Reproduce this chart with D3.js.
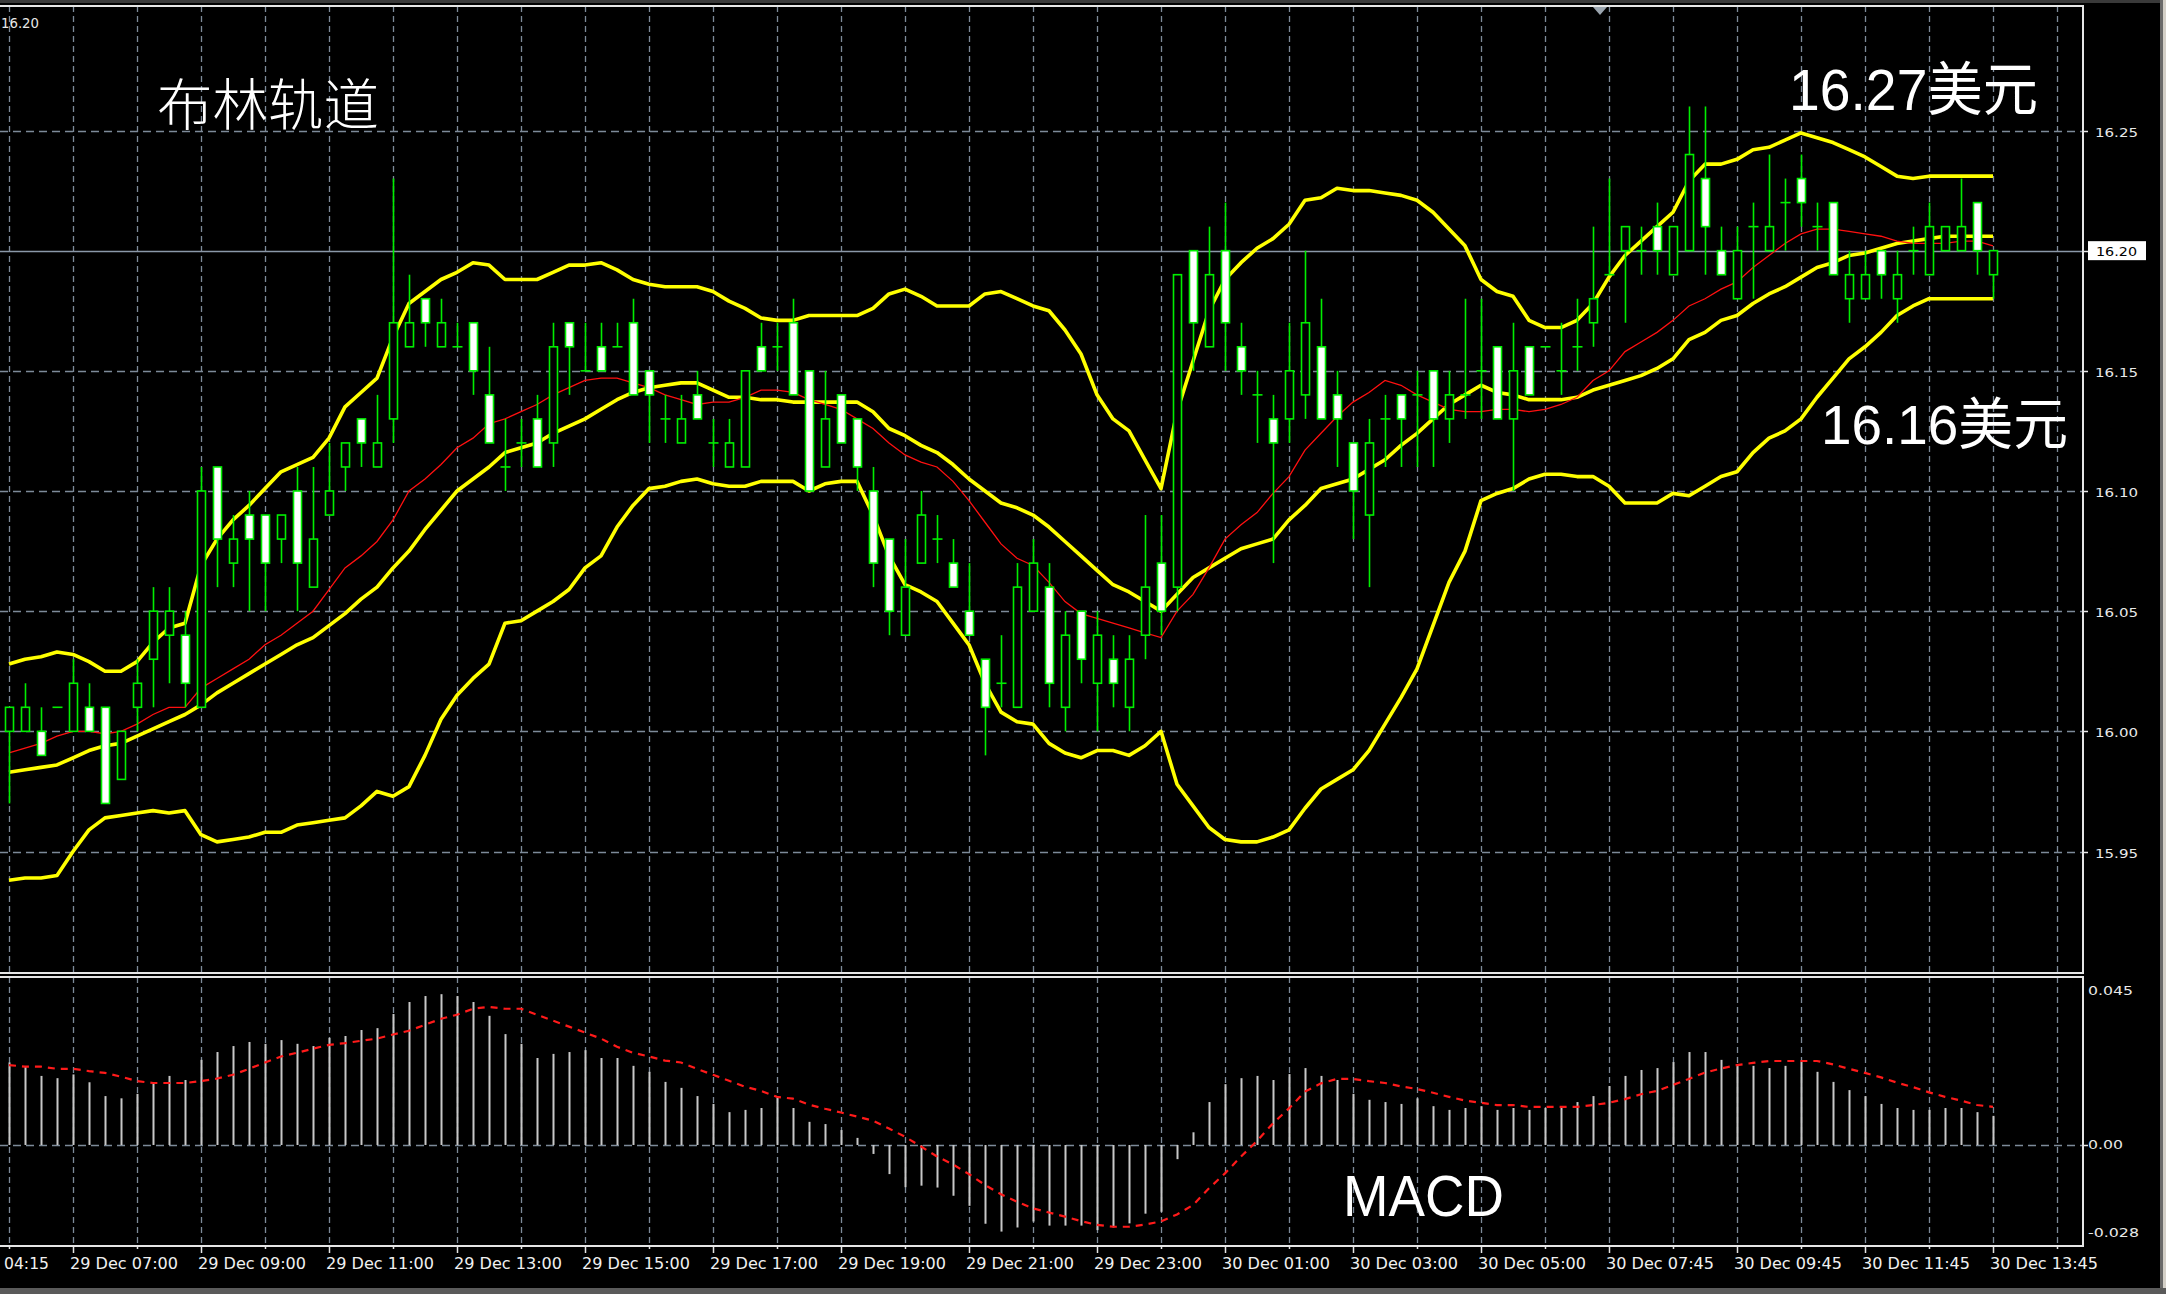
<!DOCTYPE html>
<html><head><meta charset="utf-8">
<script src="https://cdn.jsdelivr.net/npm/d3@7"></script>
<style>html,body{margin:0;padding:0;background:#000;overflow:hidden}svg{display:block}</style>
</head><body>
<svg id="c" width="2166" height="1294"></svg>
<script>
// ---------- DATA ----------
const opens = [16.00,16.00,16.00,16.01,16.00,16.01,16.01,15.98,16.01,16.03,
16.04,16.04,16.01,16.11,16.07,16.09,16.09,16.08,16.10,16.06,
16.09,16.11,16.13,16.11,16.13,16.16,16.18,16.16,16.16,16.17,
16.14,16.11,16.12,16.13,16.12,16.17,16.15,16.16,16.16,16.17,
16.15,16.13,16.12,16.14,16.12,16.11,16.11,16.16,16.16,16.17,
16.15,16.11,16.14,16.13,16.10,16.08,16.04,16.07,16.08,16.07,
16.05,16.03,16.02,16.01,16.05,16.06,16.01,16.05,16.02,16.03,
16.01,16.04,16.07,16.06,16.20,16.16,16.20,16.16,16.14,16.13,
16.13,16.14,16.16,16.14,16.12,16.09,16.13,16.14,16.14,16.15,
16.13,16.14,16.15,16.16,16.13,16.16,16.16,16.15,16.16,16.17,
16.19,16.20,16.20,16.21,16.19,16.20,16.23,16.20,16.18,16.21,
16.20,16.22,16.23,16.21,16.22,16.18,16.18,16.20,16.18,16.20,
16.19,16.20,16.20,16.22,16.19];
const highs = [16.01,16.02,16.01,16.01,16.03,16.02,16.01,16.00,16.03,16.06,
16.06,16.05,16.11,16.11,16.09,16.10,16.09,16.09,16.11,16.11,
16.12,16.12,16.13,16.14,16.23,16.19,16.18,16.18,16.17,16.17,
16.16,16.13,16.13,16.14,16.17,16.17,16.17,16.17,16.17,16.18,
16.15,16.14,16.14,16.15,16.13,16.13,16.15,16.17,16.17,16.18,
16.15,16.15,16.14,16.13,16.11,16.08,16.08,16.10,16.09,16.08,
16.07,16.03,16.04,16.07,16.08,16.07,16.05,16.05,16.05,16.04,
16.04,16.09,16.09,16.19,16.20,16.21,16.22,16.17,16.15,16.14,
16.17,16.20,16.18,16.15,16.12,16.13,16.14,16.14,16.15,16.15,
16.15,16.18,16.18,16.16,16.17,16.16,16.16,16.17,16.18,16.21,
16.23,16.21,16.21,16.22,16.21,16.26,16.26,16.21,16.21,16.22,
16.24,16.23,16.24,16.22,16.22,16.20,16.20,16.20,16.20,16.21,
16.22,16.21,16.23,16.22,16.20];
const lows = [15.97,16.00,15.99,16.01,16.00,16.00,15.97,15.98,16.00,16.01,
16.02,16.01,16.01,16.06,16.06,16.05,16.05,16.07,16.05,16.06,
16.09,16.10,16.11,16.11,16.12,16.16,16.16,16.16,16.16,16.14,
16.12,16.10,16.11,16.11,16.11,16.14,16.15,16.15,16.16,16.14,
16.12,16.12,16.12,16.13,16.11,16.11,16.11,16.15,16.15,16.14,
16.10,16.11,16.12,16.10,16.06,16.04,16.04,16.07,16.07,16.06,
16.04,15.99,16.01,16.01,16.05,16.01,16.00,16.02,16.00,16.01,
16.00,16.03,16.04,16.05,16.15,16.16,16.15,16.14,16.12,16.07,
16.12,16.13,16.13,16.11,16.08,16.06,16.11,16.11,16.11,16.11,
16.12,16.13,16.13,16.13,16.10,16.14,16.16,16.14,16.15,16.16,
16.19,16.17,16.19,16.19,16.19,16.20,16.19,16.19,16.18,16.18,
16.20,16.20,16.21,16.20,16.19,16.17,16.18,16.18,16.17,16.19,
16.19,16.20,16.20,16.19,16.18];
const closes = [16.01,16.01,15.99,16.01,16.02,16.00,15.97,16.00,16.02,16.05,
16.05,16.02,16.10,16.08,16.08,16.08,16.07,16.09,16.07,16.08,
16.10,16.12,16.12,16.12,16.17,16.17,16.17,16.17,16.16,16.15,
16.12,16.11,16.12,16.11,16.16,16.16,16.15,16.15,16.16,16.14,
16.14,16.13,16.13,16.13,16.12,16.12,16.15,16.15,16.16,16.14,
16.10,16.13,16.12,16.11,16.07,16.05,16.06,16.09,16.08,16.06,
16.04,16.01,16.02,16.06,16.07,16.02,16.04,16.03,16.04,16.02,
16.03,16.06,16.05,16.19,16.17,16.19,16.17,16.15,16.14,16.12,
16.15,16.17,16.13,16.13,16.10,16.12,16.13,16.13,16.14,16.13,
16.14,16.14,16.15,16.13,16.15,16.14,16.16,16.15,16.16,16.18,
16.19,16.21,16.20,16.20,16.21,16.24,16.21,16.19,16.20,16.21,
16.21,16.22,16.22,16.21,16.19,16.19,16.19,16.19,16.19,16.20,
16.21,16.21,16.21,16.20,16.20];

const bbUpper = [16.028,16.030,16.031,16.033,16.032,16.029,16.025,16.025,16.029,16.037,
16.043,16.045,16.069,16.080,16.088,16.094,16.101,16.108,16.111,16.114,
16.122,16.135,16.141,16.147,16.164,16.178,16.183,16.188,16.191,16.195,
16.194,16.188,16.188,16.188,16.191,16.194,16.194,16.195,16.192,16.188,
16.186,16.185,16.185,16.185,16.183,16.179,16.176,16.172,16.171,16.171,
16.173,16.173,16.173,16.173,16.176,16.182,16.184,16.181,16.177,16.177,
16.177,16.182,16.183,16.180,16.177,16.175,16.167,16.157,16.140,16.130,
16.125,16.113,16.101,16.133,16.154,16.175,16.188,16.195,16.201,16.205,
16.211,16.221,16.222,16.226,16.225,16.225,16.224,16.223,16.221,16.216,
16.209,16.202,16.188,16.183,16.181,16.171,16.168,16.168,16.171,16.178,
16.189,16.198,16.204,16.210,16.216,16.229,16.236,16.236,16.238,16.242,
16.243,16.246,16.249,16.247,16.245,16.242,16.239,16.235,16.231,16.230,
16.231,16.231,16.231,16.231,16.231];
const bbMiddle = [15.983,15.984,15.985,15.986,15.989,15.992,15.994,15.995,15.998,16.001,
16.004,16.007,16.011,16.016,16.020,16.024,16.028,16.032,16.036,16.039,
16.044,16.049,16.055,16.060,16.068,16.075,16.084,16.092,16.100,16.105,
16.110,16.116,16.118,16.120,16.124,16.127,16.130,16.134,16.138,16.141,
16.143,16.144,16.145,16.145,16.142,16.139,16.139,16.138,16.138,16.137,
16.137,16.137,16.137,16.137,16.133,16.126,16.123,16.119,16.116,16.111,
16.105,16.100,16.095,16.093,16.090,16.085,16.079,16.073,16.067,16.061,
16.058,16.054,16.050,16.057,16.064,16.068,16.072,16.076,16.078,16.080,
16.088,16.094,16.101,16.103,16.105,16.109,16.113,16.119,16.124,16.130,
16.136,16.140,16.144,16.141,16.140,16.138,16.138,16.138,16.139,16.142,
16.144,16.146,16.148,16.151,16.155,16.163,16.166,16.171,16.173,16.178,
16.182,16.185,16.189,16.193,16.195,16.198,16.199,16.201,16.203,16.204,
16.205,16.206,16.206,16.206,16.206];
const bbLower = [15.938,15.939,15.939,15.940,15.950,15.959,15.964,15.965,15.966,15.967,
15.966,15.967,15.957,15.954,15.955,15.956,15.958,15.958,15.961,15.962,
15.963,15.964,15.969,15.975,15.973,15.977,15.990,16.005,16.015,16.022,
16.028,16.045,16.046,16.050,16.054,16.059,16.068,16.073,16.085,16.094,
16.101,16.102,16.104,16.105,16.103,16.102,16.102,16.104,16.104,16.104,
16.100,16.103,16.104,16.104,16.090,16.073,16.061,16.058,16.054,16.045,
16.036,16.020,16.008,16.004,16.003,15.995,15.991,15.989,15.992,15.992,
15.990,15.994,16.000,15.978,15.969,15.960,15.955,15.954,15.954,15.956,
15.959,15.968,15.976,15.980,15.984,15.992,16.003,16.014,16.026,16.044,
16.062,16.075,16.096,16.099,16.101,16.105,16.107,16.107,16.106,16.106,
16.102,16.095,16.095,16.095,16.099,16.098,16.102,16.106,16.108,16.116,
16.122,16.125,16.130,16.139,16.147,16.155,16.160,16.166,16.173,16.177,
16.180,16.180,16.180,16.180,16.180];
const maRed = [15.991,15.993,15.995,15.998,16.000,16.000,15.999,16.000,16.003,16.007,
16.010,16.010,16.018,16.022,16.026,16.030,16.036,16.040,16.045,16.050,
16.059,16.068,16.073,16.079,16.088,16.100,16.105,16.111,16.118,16.122,
16.128,16.130,16.133,16.136,16.140,16.143,16.146,16.147,16.147,16.145,
16.143,16.140,16.138,16.136,16.137,16.137,16.139,16.142,16.142,16.141,
16.138,16.136,16.134,16.130,16.126,16.120,16.115,16.112,16.110,16.104,
16.096,16.087,16.078,16.072,16.069,16.062,16.054,16.049,16.047,16.045,
16.043,16.041,16.039,16.050,16.057,16.068,16.080,16.086,16.091,16.099,
16.106,16.117,16.124,16.131,16.137,16.141,16.146,16.144,16.140,16.137,
16.134,16.133,16.133,16.134,16.134,16.133,16.134,16.136,16.139,16.146,
16.150,16.158,16.162,16.166,16.171,16.177,16.180,16.184,16.187,16.193,
16.198,16.203,16.207,16.209,16.209,16.208,16.207,16.206,16.204,16.203,
16.203,16.203,16.204,16.204,16.202];

const macdHist = [0.0221,0.0210,0.0185,0.0179,0.0189,0.0168,0.0131,0.0125,0.0137,0.0165,
0.0185,0.0174,0.0228,0.0249,0.0265,0.0276,0.0271,0.0281,0.0271,0.0265,
0.0287,0.0292,0.0308,0.0313,0.0351,0.0383,0.0399,0.0404,0.0399,0.0383,
0.0346,0.0297,0.0271,0.0233,0.0244,0.0249,0.0254,0.0233,0.0233,0.0212,
0.0196,0.0169,0.0153,0.0131,0.0110,0.0088,0.0094,0.0099,0.0126,0.0099,
0.0062,0.0056,0.0040,0.0019,-0.0024,-0.0078,-0.0113,-0.0109,-0.0114,-0.0136,
-0.0163,-0.0211,-0.0232,-0.0221,-0.0205,-0.0216,-0.0216,-0.0216,-0.0228,-0.0221,
-0.0210,-0.0184,-0.0179,-0.0038,0.0034,0.0115,0.0163,0.0179,0.0185,0.0174,
0.0190,0.0206,0.0185,0.0174,0.0137,0.0121,0.0115,0.0110,0.0125,0.0104,
0.0094,0.0099,0.0104,0.0094,0.0099,0.0094,0.0099,0.0099,0.0115,0.0131,
0.0158,0.0185,0.0201,0.0206,0.0222,0.0249,0.0249,0.0228,0.0217,0.0212,
0.0206,0.0212,0.0222,0.0196,0.0169,0.0147,0.0131,0.0110,0.0099,0.0094,
0.0094,0.0099,0.0099,0.0088,0.0078];
const macdSignal = [0.0214,0.0210,0.0210,0.0204,0.0204,0.0198,0.0193,0.0183,0.0171,0.0166,
0.0166,0.0166,0.0171,0.0178,0.0188,0.0204,0.0221,0.0237,0.0247,0.0258,
0.0268,0.0273,0.0279,0.0285,0.0296,0.0306,0.0322,0.0338,0.0349,0.0365,
0.0370,0.0365,0.0365,0.0349,0.0333,0.0317,0.0301,0.0285,0.0263,0.0247,
0.0237,0.0226,0.0221,0.0204,0.0188,0.0172,0.0156,0.0145,0.0129,0.0124,
0.0108,0.0097,0.0087,0.0076,0.0065,0.0044,0.0022,-0.0004,-0.0031,-0.0052,
-0.0078,-0.0107,-0.0132,-0.0152,-0.0170,-0.0181,-0.0192,-0.0204,-0.0214,-0.0219,
-0.0219,-0.0213,-0.0205,-0.0186,-0.0161,-0.0116,-0.0076,-0.0031,0.0011,0.0058,
0.0098,0.0143,0.0165,0.0177,0.0177,0.0171,0.0166,0.0157,0.0150,0.0140,
0.0129,0.0119,0.0113,0.0107,0.0107,0.0102,0.0102,0.0102,0.0102,0.0107,
0.0113,0.0123,0.0136,0.0145,0.0161,0.0177,0.0194,0.0205,0.0214,0.0220,
0.0225,0.0225,0.0225,0.0225,0.0216,0.0204,0.0193,0.0181,0.0167,0.0155,
0.0141,0.0129,0.0119,0.0107,0.0102];

const priceTicks = [16.25,16.20,16.15,16.10,16.05,16.00,15.95];
const priceTickLabels = ["16.25","16.20","16.15","16.10","16.05","16.00","15.95"];
const macdTicks = [0.045,0.00,-0.028];
const macdTickLabels = ["0.045","0.00","-0.028"];
const timeLabels = ["04:15","29 Dec 07:00","29 Dec 09:00","29 Dec 11:00","29 Dec 13:00","29 Dec 15:00",
"29 Dec 17:00","29 Dec 19:00","29 Dec 21:00","29 Dec 23:00","30 Dec 01:00","30 Dec 03:00",
"30 Dec 05:00","30 Dec 07:45","30 Dec 09:45","30 Dec 11:45","30 Dec 13:45"];
const timeLabelBars = [-4,4,12,20,28,36,44,52,60,68,76,84,92,100,108,116,124];
const gridBars = [0,4,8,12,16,20,24,28,32,36,40,44,48,52,56,60,64,68,72,76,80,84,88,92,96,100,104,108,112,116,120,124,128];
const currentPrice = 16.20;
const currentPriceLabel = "16.20";
const titleText = "布林轨道";
const upperNote = "16.27美元";
const lowerNote = "16.16美元";
const macdNote = "MACD";

// ---------- LAYOUT ----------
const svg = d3.select("#c");
const W = 2166, H = 1294;
const plotR = 2083;
const mainTop = 6, mainBot = 973;
const macdTop = 977, macdBot = 1246;
const gridColor = "#7d8a99";
const green = "#00ee00";

const n = closes.length;
const x = d3.scaleLinear().domain([0, n-1]).range([9, 1993]);
const y = d3.scaleLinear().domain([15.95, 16.25]).range([851.5, 130.5]);
const ym = d3.scaleLinear().domain([-0.028, 0.045]).range([1249.5, 977]);

svg.append("rect").attr("width", W).attr("height", H).attr("fill", "#000");

const defs = svg.append("defs");
defs.append("clipPath").attr("id","clipMain").append("rect")
  .attr("x",0).attr("y",mainTop).attr("width",plotR).attr("height",mainBot-mainTop);
defs.append("clipPath").attr("id","clipMacd").append("rect")
  .attr("x",0).attr("y",macdTop).attr("width",plotR).attr("height",macdBot-macdTop);

// ---------- MAIN PANEL ----------
const gMain = svg.append("g").attr("clip-path","url(#clipMain)");
gMain.selectAll("line.vg").data(gridBars).join("line")
  .attr("x1", d=>Math.round(x(d))+0.5).attr("x2", d=>Math.round(x(d))+0.5)
  .attr("y1", mainTop).attr("y2", mainBot)
  .attr("stroke", gridColor).attr("stroke-width",1.3).attr("stroke-dasharray","6,4");
gMain.selectAll("line.hg").data(priceTicks.filter(p=>p!==currentPrice)).join("line")
  .attr("x1",0).attr("x2",plotR)
  .attr("y1", d=>Math.round(y(d))+0.5).attr("y2", d=>Math.round(y(d))+0.5)
  .attr("stroke", gridColor).attr("stroke-width",1.3).attr("stroke-dasharray","8,5");
gMain.append("line").attr("x1",0).attr("x2",plotR)
  .attr("y1", Math.round(y(currentPrice))+0.5).attr("y2", Math.round(y(currentPrice))+0.5)
  .attr("stroke","#8a98a8").attr("stroke-width",1.5);

const idx = d3.range(n);
const lineOf = arr => d3.line().x(i=>x(i)).y(i=>y(arr[i]))(idx);
[bbUpper,bbMiddle,bbLower].forEach(arr=>{
  gMain.append("path").attr("d", lineOf(arr)).attr("fill","none")
    .attr("stroke","#ffff00").attr("stroke-width",3.6).attr("stroke-linejoin","round");
});
gMain.append("path").attr("d", lineOf(maRed)).attr("fill","none")
  .attr("stroke","#ff1010").attr("stroke-width",1.3);

const gC = gMain.append("g");
idx.forEach(i=>{
  const cx = Math.round(x(i))+0.5;
  gC.append("line").attr("x1",cx).attr("x2",cx)
    .attr("y1", y(highs[i])).attr("y2", y(lows[i]))
    .attr("stroke", green).attr("stroke-width",1.6);
  const o = opens[i], c = closes[i];
  if (o === c) {
    gC.append("line").attr("x1",cx-5).attr("x2",cx+5)
      .attr("y1", y(o)).attr("y2", y(o))
      .attr("stroke", green).attr("stroke-width",1.6);
  } else {
    const top = y(Math.max(o,c)), bot = y(Math.min(o,c));
    gC.append("rect").attr("x", cx-4).attr("y", top)
      .attr("width", 8).attr("height", bot-top)
      .attr("fill", c < o ? "#ffffff" : "#000000")
      .attr("stroke", green).attr("stroke-width",1.6);
  }
});

// ---------- MACD PANEL ----------
const gM = svg.append("g").attr("clip-path","url(#clipMacd)");
gM.selectAll("line.vg").data(gridBars).join("line")
  .attr("x1", d=>Math.round(x(d))+0.5).attr("x2", d=>Math.round(x(d))+0.5)
  .attr("y1", macdTop).attr("y2", macdBot)
  .attr("stroke", gridColor).attr("stroke-width",1.3).attr("stroke-dasharray","6,4");
gM.append("line").attr("x1",0).attr("x2",plotR)
  .attr("y1", Math.round(ym(0))+0.5).attr("y2", Math.round(ym(0))+0.5)
  .attr("stroke", gridColor).attr("stroke-width",1.3).attr("stroke-dasharray","8,5");
gM.selectAll("line.h").data(idx).join("line")
  .attr("x1", i=>Math.round(x(i))+0.5).attr("x2", i=>Math.round(x(i))+0.5)
  .attr("y1", ym(0)).attr("y2", i=>ym(macdHist[i]))
  .attr("stroke","#c8c8c8").attr("stroke-width",2);
gM.append("path")
  .attr("d", d3.line().x(i=>x(i)).y(i=>ym(macdSignal[i]))(idx))
  .attr("fill","none").attr("stroke","#ff1a1a").attr("stroke-width",2.2)
  .attr("stroke-dasharray","7,6");

// ---------- FRAMES ----------
const frameColor = "#e6e6e6";
svg.append("rect").attr("x",0).attr("y",0).attr("width",W).attr("height",3).attr("fill","#3a3a3a");
svg.append("line").attr("x1",0).attr("x2",plotR+1).attr("y1",mainTop).attr("y2",mainTop).attr("stroke",frameColor).attr("stroke-width",2);
svg.append("line").attr("x1",0).attr("x2",plotR+1).attr("y1",mainBot).attr("y2",mainBot).attr("stroke",frameColor).attr("stroke-width",2);
svg.append("line").attr("x1",0).attr("x2",plotR+1).attr("y1",macdTop).attr("y2",macdTop).attr("stroke",frameColor).attr("stroke-width",2);
svg.append("line").attr("x1",0).attr("x2",plotR+1).attr("y1",macdBot).attr("y2",macdBot).attr("stroke",frameColor).attr("stroke-width",2);
svg.append("line").attr("x1",plotR).attr("x2",plotR).attr("y1",mainTop).attr("y2",mainBot).attr("stroke",frameColor).attr("stroke-width",2);
svg.append("line").attr("x1",plotR).attr("x2",plotR).attr("y1",macdTop).attr("y2",macdBot).attr("stroke",frameColor).attr("stroke-width",2);

svg.append("path").attr("d","M1593,7 L1607,7 L1600,15 Z").attr("fill","#9aa4ae");

// ---------- PRICE AXIS ----------
const axFont = "'DejaVu Sans', Verdana, sans-serif";
const gP = svg.append("g");
priceTicks.forEach((p,k)=>{
  const yy = Math.round(y(p))+0.5;
  gP.append("line").attr("x1",plotR).attr("x2",plotR+5).attr("y1",yy).attr("y2",yy).attr("stroke",frameColor).attr("stroke-width",1.5);
  if (p !== currentPrice) {
    gP.append("text").attr("x",2095).attr("y",yy+5).text(priceTickLabels[k])
      .attr("fill","#e8e8e8").attr("font-family",axFont).attr("font-size",13)
      .attr("textLength",43).attr("lengthAdjust","spacingAndGlyphs");
  }
});
const cpy = y(currentPrice);
gP.append("rect").attr("x",2088).attr("y",cpy-9.5).attr("width",58).attr("height",19).attr("fill","#ffffff");
gP.append("text").attr("x",2096).attr("y",cpy+5).text(currentPriceLabel)
  .attr("fill","#000").attr("font-family",axFont).attr("font-size",13)
  .attr("textLength",41).attr("lengthAdjust","spacingAndGlyphs");

const macdLabelY = [990,1144,1232];
macdTicks.forEach((v,k)=>{
  gP.append("text").attr("x",2088).attr("y",macdLabelY[k]+5).text(macdTickLabels[k])
    .attr("fill","#e8e8e8").attr("font-family",axFont).attr("font-size",13)
    .attr("textLength",[45,35,51][k]).attr("lengthAdjust","spacingAndGlyphs");
});
gP.append("line").attr("x1",plotR).attr("x2",plotR+5).attr("y1",Math.round(ym(0))+0.5).attr("y2",Math.round(ym(0))+0.5).attr("stroke",frameColor).attr("stroke-width",1.5);

// top-left chart header price
svg.append("text").attr("x",1).attr("y",28).text(currentPriceLabel)
  .attr("fill","#e8e8e8").attr("font-family","'DejaVu Sans Condensed', sans-serif").attr("font-size",14)
  .attr("textLength",38).attr("lengthAdjust","spacingAndGlyphs");

// ---------- TIME AXIS ----------
const gT = svg.append("g");
gridBars.forEach(b=>{
  const xx = Math.round(x(b))+0.5;
  gT.append("line").attr("x1",xx).attr("x2",xx).attr("y1",macdBot).attr("y2",macdBot+ (timeLabelBars.includes(b)?7:3))
    .attr("stroke",frameColor).attr("stroke-width",1.5);
});
timeLabels.forEach((t,k)=>{
  const first = timeLabelBars[k] < 0;
  gT.append("text").attr("x", first ? 4 : x(timeLabelBars[k]) - 3).attr("y",1269).text(t)
    .attr("fill","#f0f0f0").attr("font-family","'DejaVu Sans Condensed','Liberation Sans Narrow',sans-serif")
    .attr("font-size",16).attr("textLength", first ? 45 : 108).attr("lengthAdjust","spacingAndGlyphs");
});

// ---------- ANNOTATIONS ----------
const cjk = "'Noto Sans CJK SC', sans-serif";
svg.append("text").attr("x",157).attr("y",125).text(titleText)
  .attr("fill","#fff").attr("font-family",cjk).attr("font-weight",300).attr("font-size",56)
  .attr("textLength",222).attr("lengthAdjust","spacingAndGlyphs");
svg.append("text").attr("x",1789).attr("y",110).text(upperNote)
  .attr("fill","#fff").attr("font-family","'Liberation Sans', Arial, 'Noto Sans CJK SC', sans-serif").attr("font-size",58)
  .attr("textLength",249).attr("lengthAdjust","spacingAndGlyphs");
svg.append("text").attr("x",1821).attr("y",444).text(lowerNote)
  .attr("fill","#fff").attr("font-family","'Liberation Sans', Arial, 'Noto Sans CJK SC', sans-serif").attr("font-size",56)
  .attr("textLength",247).attr("lengthAdjust","spacingAndGlyphs");
svg.append("text").attr("x",1343).attr("y",1216).text(macdNote)
  .attr("fill","#fff").attr("font-family","'Liberation Sans', Arial, sans-serif").attr("font-size",57)
  .attr("textLength",161).attr("lengthAdjust","spacingAndGlyphs");

// ---------- WINDOW EDGES ----------
svg.append("rect").attr("x",2160).attr("y",0).attr("width",3).attr("height",H).attr("fill","#6a6a6a");
svg.append("rect").attr("x",2163).attr("y",0).attr("width",3).attr("height",H).attr("fill","#d4d0c8");
svg.append("rect").attr("x",0).attr("y",1288).attr("width",W).attr("height",6).attr("fill","#5a5a5a");
</script>
</body></html>
